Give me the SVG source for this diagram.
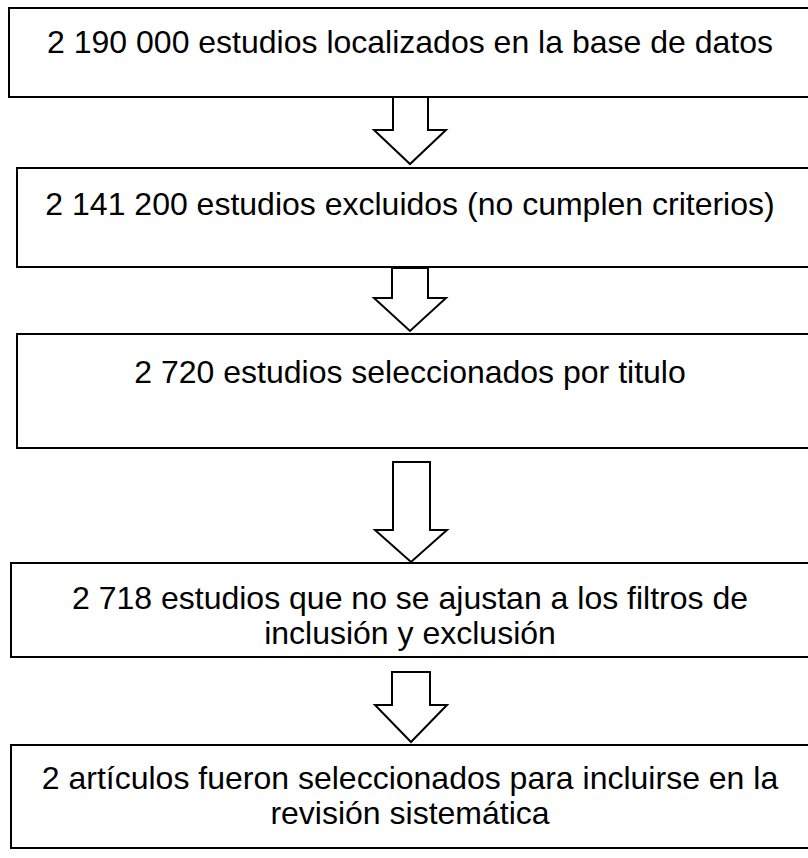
<svg xmlns="http://www.w3.org/2000/svg" width="808" height="858" viewBox="0 0 808 858">
<style>
.box{fill:#fff;stroke:#000;stroke-width:2}
.arr{fill:#fff;stroke:#000;stroke-width:2;stroke-linejoin:miter}
.t{font-family:"Liberation Sans",Arial,sans-serif;font-size:32px;fill:#000;text-anchor:middle}
</style>
<rect width="808" height="858" fill="#fff"/>
<g id="n1"><rect class="box" x="9" y="8" width="810" height="89"/><text class="t" x="410" y="53">2 190 000 estudios localizados en la base de datos</text></g>
<g id="n2"><rect class="box" x="17" y="168" width="810" height="99"/><text class="t" x="410" y="215">2 141 200 estudios excluidos (no cumplen criterios)</text></g>
<g id="n3"><rect class="box" x="17" y="334" width="810" height="114"/><text class="t" x="410" y="383">2 720 estudios seleccionados por titulo</text></g>
<g id="n4"><rect class="box" x="11" y="563" width="810" height="94"/><text class="t" x="410" y="609">2 718 estudios que no se ajustan a los filtros de</text><text class="t" x="410" y="644">inclusión y exclusión</text></g>
<g id="n5"><rect class="box" x="11" y="745" width="810" height="103"/><text class="t" x="410" y="789">2 artículos fueron seleccionados para incluirse en la</text><text class="t" x="410" y="824">revisión sistemática</text></g>
<g id="connectors">
<polygon class="arr" points="393,97 428,97 428,130 446,130 410,164 374,130 393,130"/>
<polygon class="arr" points="392,268 428,268 428,298 446,298 410,331 374,298 392,298"/>
<polygon class="arr" points="393,462 430,462 430,530 447,530 411,562 375,530 393,530"/>
<polygon class="arr" points="392,672 430,672 430,705 447,705 411,742 375,705 392,705"/>
</g>
</svg>
